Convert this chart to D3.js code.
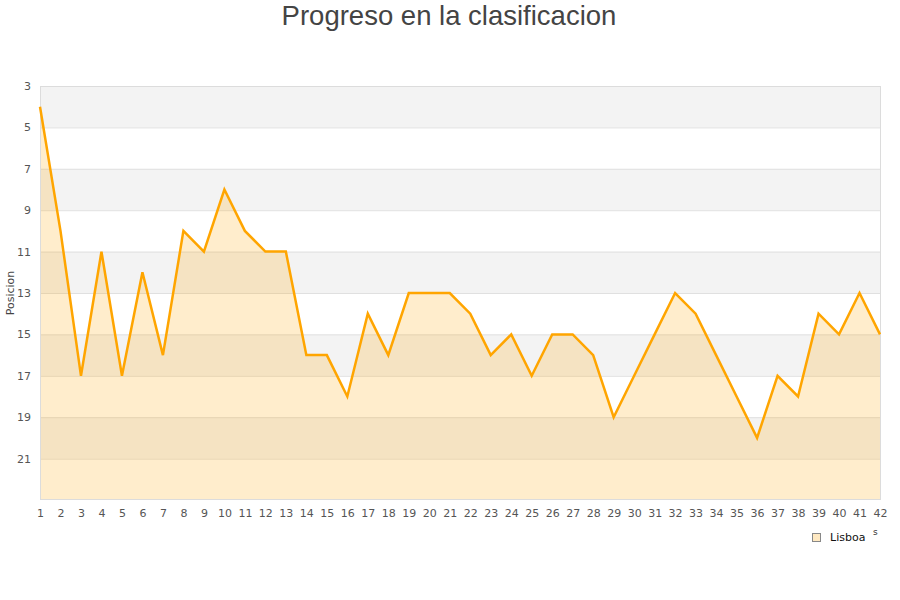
<!DOCTYPE html>
<html><head><meta charset="utf-8">
<script src="https://cdn.jsdelivr.net/npm/d3@7"></script>
<style>body{margin:0;background:#fff}svg{display:block}</style>
</head><body>
<svg id="c" width="900" height="600"></svg>
<script>
const rounds = d3.range(1, 43);
const positions = [4,10,17,11,17,12,16,10,11,8,10,11,11,16,16,18,14,16,13,13,13,14,16,15,17,15,15,16,19,17,15,13,14,16,18,20,17,18,14,15,13,15];
const yTicks = [3,5,7,9,11,13,15,17,19,21];
const bands = [[3,5],[7,9],[11,13],[15,17],[19,21]];
const seriesName = "Lisboa";
const titleText = "Progreso en la clasificacion";
const yTitle = "Posicion";

const svg = d3.select("#c");
const L = 40, R = 880, T = 86, B = 500;
const x = d3.scaleLinear().domain([1, 42]).range([L, R]);
const y = d3.scaleLinear().domain([3, 23]).range([T, B]);

svg.append("text").attr("x", 449).attr("y", 25).attr("text-anchor", "middle")
  .attr("font-family", "Liberation Sans, Arial, sans-serif").attr("font-size", 27.5)
  .attr("fill", "#444").text(titleText);

// bands
svg.selectAll("rect.band").data(bands).enter().append("rect")
  .attr("x", L).attr("width", R - L)
  .attr("y", d => y(d[0])).attr("height", d => y(d[1]) - y(d[0]))
  .attr("fill", "#f3f3f3");

// grid lines
svg.selectAll("line.grid").data(yTicks.slice(1)).enter().append("line")
  .attr("x1", L).attr("x2", R).attr("y1", d => y(d) + 0.5).attr("y2", d => y(d) + 0.5)
  .attr("stroke", "#e0e0e0").attr("stroke-width", 1);

// area
const data = rounds.map((r, i) => ({r, p: positions[i]}));
svg.append("path").datum(data)
  .attr("d", d3.area().x(d => x(d.r)).y0(B).y1(d => y(d.p)))
  .attr("fill", "orange").attr("fill-opacity", 0.2);

// border
svg.append("rect").attr("x", L + 0.5).attr("y", T + 0.5).attr("width", R - L).attr("height", B - T - 1)
  .attr("fill", "none").attr("stroke", "#dcdcdc");

// line
svg.append("path").datum(data)
  .attr("d", d3.line().x(d => x(d.r)).y(d => y(d.p)))
  .attr("fill", "none").attr("stroke", "orange").attr("stroke-width", 2.5)
  .attr("stroke-linejoin", "miter");

// y axis labels
const yAxis = d3.axisLeft(y).tickValues(yTicks).tickSize(0).tickPadding(9);
const ga = svg.append("g").attr("transform", `translate(${L},0)`).call(yAxis);
ga.select(".domain").remove();
ga.selectAll("text").attr("font-family", "DejaVu Sans, sans-serif").attr("font-size", 11).attr("fill", "#555");

// x axis labels
const xAxis = d3.axisBottom(x).tickValues(rounds).tickSize(0).tickPadding(9).tickFormat(d3.format("d"));
const gx = svg.append("g").attr("transform", `translate(0,${B})`).call(xAxis);
gx.select(".domain").remove();
gx.selectAll("text").attr("font-family", "DejaVu Sans, sans-serif").attr("font-size", 11).attr("fill", "#555");

// y title
svg.append("text").attr("transform", `translate(14,${(T + B) / 2}) rotate(-90)`)
  .attr("text-anchor", "middle").attr("font-family", "DejaVu Sans, sans-serif")
  .attr("font-size", 11).attr("fill", "#444").text(yTitle);

// legend
svg.append("rect").attr("x", 812.5).attr("y", 533.5).attr("width", 8).attr("height", 8)
  .attr("fill", "#ffe9c2").attr("stroke", "#888");
svg.append("text").attr("x", 830).attr("y", 541).attr("font-family", "DejaVu Sans, sans-serif")
  .attr("font-size", 11).attr("fill", "#111").text(seriesName);
svg.append("text").attr("x", 873).attr("y", 535).attr("font-family", "DejaVu Sans, sans-serif")
  .attr("font-size", 9).attr("fill", "#333").text("s");
</script>
</body></html>
